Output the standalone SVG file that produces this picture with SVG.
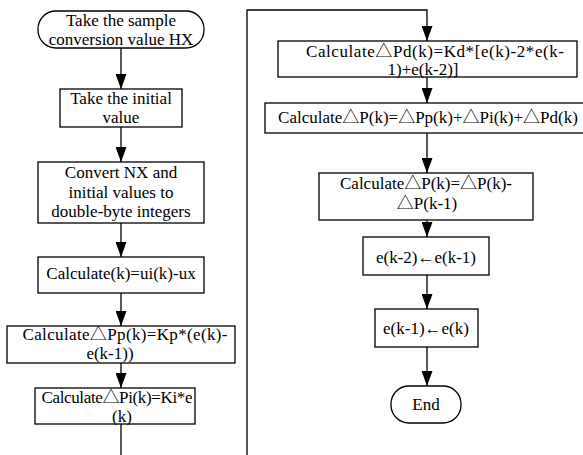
<svg xmlns="http://www.w3.org/2000/svg" width="583" height="455" viewBox="0 0 583 455">
<defs>
<marker id="ah" markerUnits="userSpaceOnUse" markerWidth="15" markerHeight="11" refX="15" refY="5.5" orient="auto">
<path d="M0,0 L15,5.5 L0,11 z" fill="#000"/>
</marker>
</defs>
<style>
.n{fill:#fff;stroke:#000;stroke-width:1.3}
.t{font-family:"Liberation Serif","Noto Sans CJK SC",serif;font-size:17px;fill:#000;text-anchor:middle}
.c{fill:none;stroke:#000;stroke-width:1.3}
</style>
<rect width="583" height="455" fill="#fff"/>
<g id="connectors">
<line class="c" x1="121" y1="48" x2="121" y2="89" marker-end="url(#ah)"/>
<line class="c" x1="121" y1="127" x2="121" y2="162" marker-end="url(#ah)"/>
<line class="c" x1="121" y1="223" x2="121" y2="257" marker-end="url(#ah)"/>
<line class="c" x1="121" y1="293" x2="121" y2="326" marker-end="url(#ah)"/>
<line class="c" x1="121" y1="363" x2="121" y2="388" marker-end="url(#ah)"/>
<line class="c" x1="121" y1="424" x2="121" y2="456"/>
<polyline class="c" points="247,456 247,10 427,10 427,41" marker-end="url(#ah)"/>
<line class="c" x1="427" y1="77" x2="427" y2="103" marker-end="url(#ah)"/>
<line class="c" x1="427" y1="133" x2="427" y2="173" marker-end="url(#ah)"/>
<line class="c" x1="427" y1="220" x2="427" y2="237" marker-end="url(#ah)"/>
<line class="c" x1="427" y1="275" x2="427" y2="309" marker-end="url(#ah)"/>
<line class="c" x1="427" y1="347" x2="427" y2="386" marker-end="url(#ah)"/>
</g>
<g id="start">
<rect class="n" x="38" y="11" width="166" height="37" rx="18" ry="18"/>
<text class="t" x="121" y="26">Take the sample</text>
<text class="t" x="121" y="45">conversion value HX</text>
</g>
<g id="initial">
<rect class="n" x="60" y="89" width="122" height="38"/>
<text class="t" x="121" y="104">Take the initial</text>
<text class="t" x="121" y="123">value</text>
</g>
<g id="convert">
<rect class="n" x="38" y="162" width="166" height="61"/>
<text class="t" x="121" y="178">Convert NX and</text>
<text class="t" x="121" y="198">initial values to</text>
<text class="t" x="121" y="217">double-byte integers</text>
</g>
<g id="calc-e">
<rect class="n" x="38" y="257" width="166" height="36"/>
<text class="t" x="121" y="279">Calculate(k)=ui(k)-ux</text>
</g>
<g id="calc-pp">
<rect class="n" x="7" y="326" width="228" height="37"/>
<text class="t" x="125" y="340" textLength="205">Calculate△Pp(k)=Kp*(e(k)-</text>
<text class="t" x="110" y="359">e(k-1))</text>
</g>
<g id="calc-pi">
<rect class="n" x="35" y="388" width="160" height="36"/>
<text class="t" x="117" y="403" textLength="151">Calculate△Pi(k)=Ki*e</text>
<text class="t" x="122" y="422">(k)</text>
</g>
<g id="calc-pd">
<rect class="n" x="278" y="41" width="299" height="36"/>
<text class="t" x="435" y="57" textLength="258">Calculate△Pd(k)=Kd*[e(k)-2*e(k-</text>
<text class="t" x="423" y="75">1)+e(k-2)]</text>
</g>
<g id="calc-p">
<rect class="n" x="265" y="103" width="325" height="30"/>
<text class="t" x="428" y="123">Calculate△P(k)=△Pp(k)+△Pi(k)+△Pd(k)</text>
</g>
<g id="calc-dp">
<rect class="n" x="319" y="173" width="214" height="47"/>
<text class="t" x="426" y="189">Calculate△P(k)=△P(k)-</text>
<text class="t" x="427" y="209">△P(k-1)</text>
</g>
<g id="shift2">
<rect class="n" x="363" y="237" width="126" height="38"/>
<text class="t" x="426" y="263">e(k-2)←e(k-1)</text>
</g>
<g id="shift1">
<rect class="n" x="375" y="309" width="103" height="38"/>
<text class="t" x="426" y="334">e(k-1)←e(k)</text>
</g>
<g id="end">
<rect class="n" x="391" y="386" width="70" height="37" rx="18" ry="18"/>
<text class="t" x="426" y="410">End</text>
</g>
</svg>
